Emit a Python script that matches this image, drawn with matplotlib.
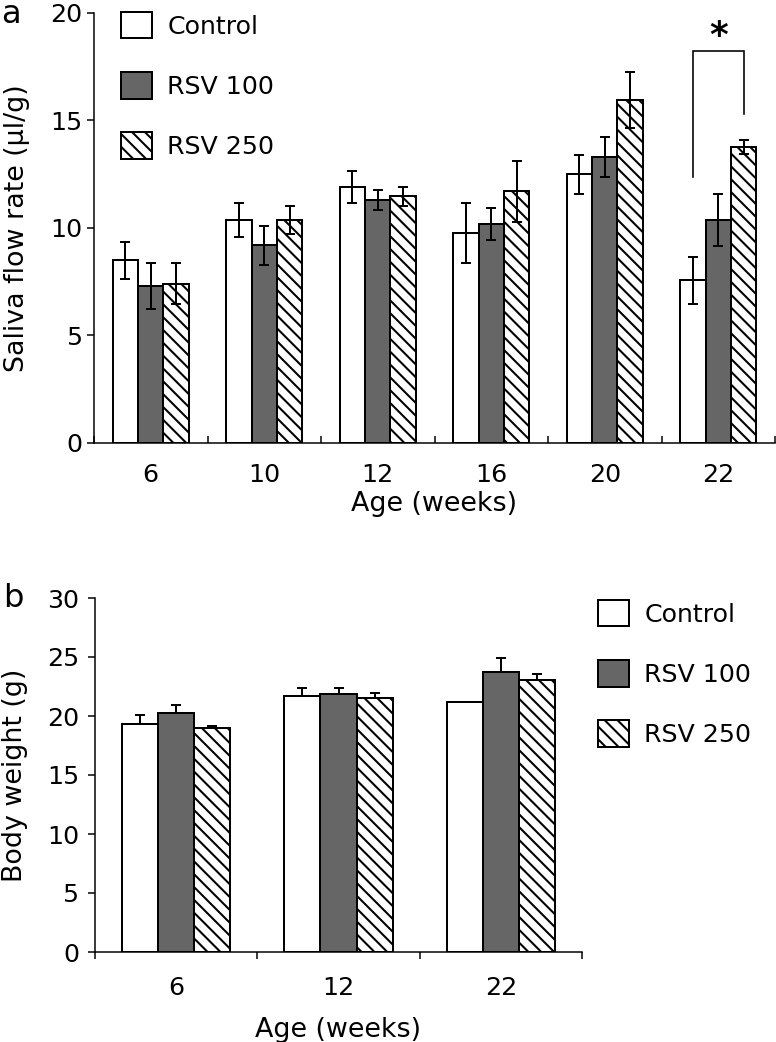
import matplotlib
matplotlib.use("Agg")
import matplotlib.pyplot as plt
import numpy as np

# ---- data ----
ages_a = ['6', '10', '12', '16', '20', '22']
flow_control = [8.5, 10.36, 11.9, 9.75, 12.5, 7.57]
flow_control_err = [0.85, 0.8, 0.75, 1.4, 0.9, 1.1]
flow_rsv100 = [7.3, 9.2, 11.3, 10.17, 13.3, 10.36]
flow_rsv100_err = [1.05, 0.9, 0.45, 0.75, 0.95, 1.2]
flow_rsv250 = [7.4, 10.36, 11.47, 11.7, 15.95, 13.75]
flow_rsv250_err = [0.95, 0.65, 0.43, 1.4, 1.3, 0.32]

ages_b = ['6', '12', '22']
bw_control = [19.3, 21.7, 21.2]
bw_control_err = [0.8, 0.7, 0.0]
bw_rsv100 = [20.25, 21.9, 23.7]
bw_rsv100_err = [0.7, 0.5, 1.2]
bw_rsv250 = [19.0, 21.5, 23.05]
bw_rsv250_err = [0.15, 0.45, 0.5]

series_names = ['Control', 'RSV 100', 'RSV 250']

# ---- style ----
DPI = 77.6
plt.rcParams['font.family'] = ['DejaVu Sans']
plt.rcParams['hatch.linewidth'] = 1.9
FS = 23.5
LABEL_FS = 25
styles = [dict(facecolor='white', hatch=None),
          dict(facecolor='#666666', hatch=None),
          dict(facecolor='white', hatch='\\\\')]
EDGE_LW = 1.85
W = 0.223
HL = 31 / (FS * DPI / 72)
LS = (61 - 27.5) / (FS * DPI / 72)

fig = plt.figure(figsize=(776 / DPI, 1042 / DPI), dpi=DPI)


def style_axes(ax, xtick_dir):
    for s in ['top', 'right']:
        ax.spines[s].set_visible(False)
    for s in ['left', 'bottom']:
        ax.spines[s].set_linewidth(1.4)
    ax.tick_params(axis='y', direction='out', length=6.5, width=1.4,
                   labelsize=FS, pad=4)
    ax.tick_params(axis='x', which='major', length=0, labelsize=FS)
    ax.tick_params(axis='x', which='minor', direction=xtick_dir,
                   length=6.5, width=1.4)


def draw_bars(ax, values, errs, one_sided):
    n = len(values[0])
    x = np.arange(n)
    for j, (vals, err, st) in enumerate(zip(values, errs, styles)):
        pos = x + (j - 1) * W
        ax.bar(pos, vals, width=W, facecolor=st['facecolor'],
               edgecolor='black', linewidth=EDGE_LW, hatch=st['hatch'],
               label=series_names[j], zorder=2)
        yerr = [np.zeros(n), err] if one_sided else err
        ax.errorbar(pos, vals, yerr=yerr, fmt='none', ecolor='black',
                    elinewidth=1.85, capsize=4.8, capthick=1.85, zorder=3)


# ---- panel a ----
axa = fig.add_axes([94 / 776, 1 - 443 / 1042, 681 / 776, 430 / 1042])
draw_bars(axa, [flow_control, flow_rsv100, flow_rsv250],
          [flow_control_err, flow_rsv100_err, flow_rsv250_err], False)
axa.set_xlim(-0.5, len(ages_a) - 0.5)
axa.set_ylim(0, 20)
axa.set_yticks([0, 5, 10, 15, 20])
axa.set_xticks(np.arange(len(ages_a)))
axa.set_xticklabels(ages_a)
axa.set_xticks(np.arange(len(ages_a) + 1) - 0.5, minor=True)
style_axes(axa, 'in')
axa.tick_params(axis='x', which='major', pad=19)
axa.set_xlabel('Age (weeks)', fontsize=LABEL_FS, labelpad=3)
axa.set_ylabel('Saliva flow rate (µl/g)', fontsize=LABEL_FS)
axa.yaxis.set_label_coords(-0.094, 0.5)

# significance bracket for 22 weeks (Control vs RSV 250)
gi = len(ages_a) - 1
xl = gi - W
xr = gi + W
axa.plot([xl, xl, xr, xr], [12.35, 18.25, 18.25, 15.28], color='black',
         lw=1.5, solid_joinstyle='miter', zorder=3, clip_on=False)
axa.text(gi, 18.45, '*', fontsize=33, fontweight='bold', ha='center',
         va='baseline')

la = axa.legend(loc='upper left', bbox_to_anchor=(27 / 681, 1.0 + 1 / 430),
                frameon=False, fontsize=FS, handlelength=HL,
                handleheight=HL, handletextpad=0.6, labelspacing=LS,
                borderpad=0, borderaxespad=0)
for p in la.get_patches():
    p.set_linewidth(EDGE_LW)

# ---- panel b ----
axb = fig.add_axes([95 / 776, 1 - 952 / 1042, 487 / 776, 354 / 1042])
draw_bars(axb, [bw_control, bw_rsv100, bw_rsv250],
          [bw_control_err, bw_rsv100_err, bw_rsv250_err], True)
axb.set_xlim(-0.5, len(ages_b) - 0.5)
axb.set_ylim(0, 30)
axb.set_yticks([0, 5, 10, 15, 20, 25, 30])
axb.set_xticks(np.arange(len(ages_b)))
axb.set_xticklabels(ages_b)
axb.set_xticks(np.arange(len(ages_b) + 1) - 0.5, minor=True)
style_axes(axb, 'out')
axb.tick_params(axis='y', pad=8)
axb.tick_params(axis='x', which='major', pad=22)
axb.set_xlabel('Age (weeks)', fontsize=LABEL_FS, labelpad=16)
axb.set_ylabel('Body weight (g)', fontsize=LABEL_FS)
axb.yaxis.set_label_coords(-0.137, 0.5)

lb = axb.legend(loc='upper left', bbox_to_anchor=(503 / 487, 1.0 - 2 / 354),
                frameon=False, fontsize=FS, handlelength=HL,
                handleheight=HL, handletextpad=0.6, labelspacing=LS,
                borderpad=0, borderaxespad=0)
for p in lb.get_patches():
    p.set_linewidth(EDGE_LW)

# panel letters
fig.text(1 / 776, 1 - 23 / 1042, 'a', fontsize=30, ha='left', va='baseline')
fig.text(3 / 776, 1 - 607 / 1042, 'b', fontsize=30, ha='left', va='baseline')

fig.savefig('out.png', dpi=DPI)
